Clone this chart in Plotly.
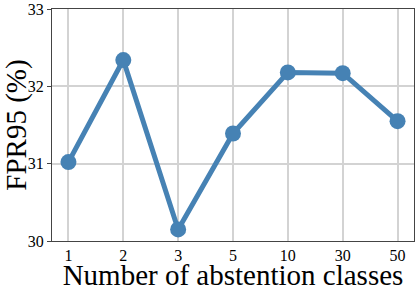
import plotly.graph_objects as go

categories = ["1", "2", "3", "5", "10", "30", "50"]
fpr95 = [31.02, 32.34, 30.15, 31.39, 32.18, 32.17, 31.55]
y_ticks = [30, 31, 32, 33]

fig = go.Figure()
fig.add_trace(go.Scatter(
    x=categories, y=fpr95, mode="lines+markers",
    line=dict(color="#4682B4", width=5),
    marker=dict(color="#4682B4", size=16),
    showlegend=False,
))

font_family = "Liberation Serif, Times New Roman, serif"
fig.update_layout(
    width=416, height=291,
    margin=dict(l=52, r=1, t=6, b=50),
    paper_bgcolor="white", plot_bgcolor="white",
    font=dict(family=font_family, color="black"),
)
fig.update_xaxes(
    type="category", range=[-0.3, 6.3],
    showgrid=True, gridcolor="#d3d3d3", gridwidth=1.5,
    showline=True, linecolor="#444", linewidth=1.2, mirror=True,
    ticks="", tickfont=dict(size=16, family=font_family, color="black"),
    title=dict(text="Number of abstention classes", font=dict(size=29, family=font_family), standoff=2),
)
fig.update_yaxes(
    range=[30, 33], tickvals=y_ticks, ticklabeloverflow="allow",
    showgrid=True, gridcolor="#d3d3d3", gridwidth=1.5,
    showline=True, linecolor="#444", linewidth=1.2, mirror=True,
    ticks="outside", ticklen=4, tickcolor="#444",
    tickfont=dict(size=16, family=font_family, color="black"),
    title=dict(text="FPR95 (%)", font=dict(size=29, family=font_family), standoff=4),
    zeroline=False,
)
fig.write_html("out.html", config={"displayModeBar": False},
               post_script="document.body.style.margin='0';")
